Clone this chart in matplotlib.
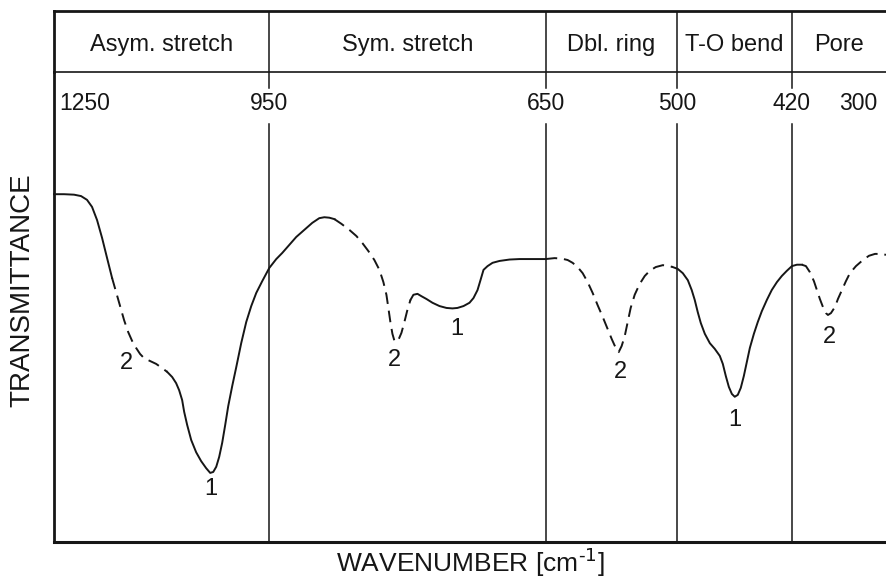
import matplotlib.pyplot as plt
import numpy as np
from matplotlib.transforms import blended_transform_factory

plt.rcParams['font.family'] = ['Liberation Sans', 'DejaVu Sans']

# band regions of the framework spectrum (cm^-1)
boundaries = [1250, 950, 650, 500, 420, 300]
regions = ["Asym. stretch", "Sym. stretch", "Dbl. ring", "T-O bend", "Pore"]
# where each boundary sits across the axis; the wavenumber axis is piecewise
boundary_pos = [55, 270, 546, 677, 792, 886]

# spectrum, piece by piece (wavenumber, transmittance in arbitrary units)
asym_a_wn = [1250, 1236.0, 1222.1, 1212.3, 1204.0, 1197.0, 1190.0, 1183.0, 1176.0, 1169.1]
asym_a_t = [74.0, 74.0, 73.9, 73.6, 72.8, 71.3, 68.5, 64.7, 60.4, 56.2]
asym_b_wn = [1169.1, 1163.5, 1157.9, 1152.3, 1146.7, 1141.2, 1135.6, 1130.0, 1124.4, 1116.0,
             1107.7, 1099.3, 1092.3]
asym_b_t = [56.2, 53.2, 50.2, 47.2, 44.7, 42.8, 41.3, 40.0, 39.1, 38.5, 37.9, 37.0, 36.2]
asym_c_wn = [1092.3, 1085.3, 1079.8, 1075.6, 1071.4, 1068.6, 1064.4, 1058.8, 1051.9, 1044.9,
             1037.9, 1032.3, 1028.1, 1023.9, 1019.8, 1015.6, 1011.4, 1007.2, 1001.6, 996.0,
             989.1, 982.1, 975.1, 968.1, 959.8, 950.0, 942.4, 935.9, 928.3, 920.7, 912.0,
             903.3, 895.7, 890.2, 884.8, 879.3]
asym_c_t = [36.2, 35.1, 33.8, 32.3, 30.2, 27.7, 24.9, 21.7, 19.1, 17.2,
            15.7, 14.7, 14.9, 16.0, 18.1, 21.1, 24.9, 28.9, 33.2, 37.2,
            42.3, 46.8, 50.2, 53.0, 55.5, 58.3, 60.2, 61.5, 63.2, 64.9, 66.4,
            67.9, 68.9, 69.1, 69.0, 68.7]
sym_a_wn = [879.3, 871.7, 863.0, 855.4, 848.9, 842.4, 835.9, 830.4, 826.1, 822.8, 820.7,
            818.5, 816.3, 814.1, 811.9, 809.8, 806.5, 803.3, 800.0, 796.7]
sym_a_t = [68.7, 67.7, 66.4, 65.1, 63.6, 61.9, 60.0, 57.9, 55.3, 52.6, 49.8,
           46.8, 44.3, 42.8, 42.6, 43.0, 44.5, 46.8, 49.4, 51.5]
sym_b_wn = [796.7, 793.5, 789.1, 784.8, 779.3, 772.8, 765.2, 757.6, 751.1, 745.7, 739.1,
            732.6, 728.3, 723.9, 720.7, 717.4, 713.0, 707.6, 700.0, 689.1, 678.3, 667.4, 650.0]
sym_b_t = [51.5, 52.6, 52.8, 52.3, 51.7, 50.9, 50.2, 49.8, 49.7, 49.8, 50.2,
           50.9, 51.9, 53.6, 55.7, 57.9, 58.7, 59.4, 59.8, 60.1, 60.2, 60.2, 60.2]
ring_wn = [650.0, 639.7, 631.7, 624.8, 619.1, 613.4, 607.6, 601.9, 596.2, 590.5, 584.7,
           579.0, 574.4, 569.8, 566.4, 563.0, 559.5, 556.1, 552.7, 548.1, 542.4, 536.6,
           530.9, 524.0, 516.0, 510.3, 504.6]
ring_t = [60.2, 60.4, 60.3, 60.0, 59.4, 58.5, 57.2, 55.3, 53.0, 50.4, 47.9,
          45.3, 43.2, 41.3, 40.4, 41.7, 43.8, 46.8, 49.8, 52.6, 54.9, 56.6,
          57.7, 58.5, 58.9, 58.8, 58.5]
bend_wn = [504.6, 499.3, 495.8, 492.3, 489.6, 487.5, 485.4, 483.3, 480.5, 477.0, 473.6,
           470.1, 468.0, 465.9, 463.8, 461.7, 459.7, 457.6, 455.5, 453.4, 451.3, 449.2,
           446.4, 443.7, 440.9, 437.4, 434.0, 430.4, 427.0, 423.5, 420.0, 413.6, 407.2]
bend_t = [58.5, 58.1, 57.2, 55.7, 53.6, 51.5, 48.9, 46.6, 44.3, 42.3, 41.1,
          39.6, 37.9, 35.3, 33.0, 31.5, 30.9, 31.3, 32.8, 35.3, 38.3, 41.3,
          44.3, 46.8, 49.1, 51.5, 53.6, 55.3, 56.6, 57.7, 58.7, 59.0, 59.0]
pore_wn = [407.2, 402.1, 397.0, 391.9, 388.1, 384.3, 380.4, 376.6, 374.0, 370.2, 365.1,
           361.3, 356.2, 351.1, 346.0, 338.3, 329.4, 321.7, 314.0, 306.4, 300.0]
pore_t = [59.0, 58.7, 57.4, 55.5, 53.6, 51.7, 50.0, 48.7, 48.3, 48.7, 50.0,
          51.7, 53.6, 55.5, 57.2, 58.7, 60.0, 60.9, 61.3, 61.3, 61.1]

# band assignments marked on the curve
peak_wn = [1149.5, 1030.9, 814.1, 746.7, 564.1, 459.7, 371.5]
peak_t = [38.1, 11.3, 38.7, 45.3, 36.2, 26.0, 43.6]
peak_text = ["2", "1", "2", "1", "2", "1", "2"]


def forward(x):
    return np.interp(x, boundaries[::-1], boundary_pos[::-1])


def inverse(p):
    return np.interp(p, boundary_pos, boundaries)


ink = "#161616"
W, H = 887, 580
fig = plt.figure(figsize=(W / 100, H / 100), dpi=100)

left, right = 54 / W, 886 / W
ax = fig.add_axes([left, (H - 542) / H, right - left, (542 - 72) / H])
hax = fig.add_axes([left, (H - 72) / H, right - left, (72 - 11) / H])

for a in (ax, hax):
    a.set_xscale('function', functions=(forward, inverse))
    a.set_xlim(boundaries[-1], boundaries[0])
    a.set_xticks([])
    a.set_yticks([])
    a.spines['right'].set_visible(False)
    a.spines['left'].set_linewidth(2.0)
    for s in a.spines.values():
        s.set_color(ink)

ax.set_ylim(0, 100)
ax.spines['top'].set_visible(False)
ax.spines['bottom'].set_linewidth(2.2)
hax.set_ylim(0, 1)
hax.spines['top'].set_linewidth(2.0)
hax.spines['bottom'].set_linewidth(1.2)

# region dividers, broken where the wavenumber is written
for w in boundaries[1:-1]:
    ax.axvline(w, ymin=0, ymax=(542 - 124) / 470, color=ink, lw=1.1)
    ax.axvline(w, ymin=(542 - 88) / 470, ymax=1, color=ink, lw=1.1)
    hax.axvline(w, color=ink, lw=1.1)

# region names in the header
for i, name in enumerate(regions):
    mid = inverse((boundary_pos[i] + boundary_pos[i + 1]) / 2)
    hax.text(mid, 0.45, name, ha='center', va='center', fontsize=17, color=ink)

# boundary wavenumbers
trans = blended_transform_factory(ax.transData, ax.transAxes)
for i, w in enumerate(boundaries):
    if i == 0:
        ha, dx = 'left', 4
    elif i == len(boundaries) - 1:
        ha, dx = 'right', -6
    else:
        ha, dx = 'center', 0
    ax.annotate(str(w), (w, (542 - 104) / 470), xycoords=trans, xytext=(dx, 0),
                textcoords='offset points', ha=ha, va='center', fontsize=16.5, color=ink)

# spectrum: solid where the band is observed, dashed where it is optional
pieces = [
    (asym_a_wn, asym_a_t, '-'),
    (asym_b_wn, asym_b_t, '--'),
    (asym_c_wn, asym_c_t, '-'),
    (sym_a_wn, sym_a_t, '--'),
    (sym_b_wn, sym_b_t, '-'),
    (ring_wn, ring_t, '--'),
    (bend_wn, bend_t, '-'),
    (pore_wn, pore_t, '--'),
]
for wn, t, style in pieces:
    if style == '--':
        ax.plot(wn, t, color=ink, lw=1.4, linestyle=(0, (6, 3.5)), clip_on=False)
    else:
        ax.plot(wn, t, color=ink, lw=1.4, clip_on=False)

for w, t, s in zip(peak_wn, peak_t, peak_text):
    ax.text(w, t, s, ha='center', va='center', fontsize=17, color=ink)

fig.text(22 / W, 0.5, "TRANSMITTANCE", rotation=90, ha='center', va='center',
         fontsize=20, color=ink)
fig.text(470 / W, (H - 562) / H, r"WAVENUMBER [cm$^{\text{-1}}$]", ha='center', va='center',
         fontsize=19, color=ink)

fig.savefig("out.png", dpi=100, facecolor='white')
